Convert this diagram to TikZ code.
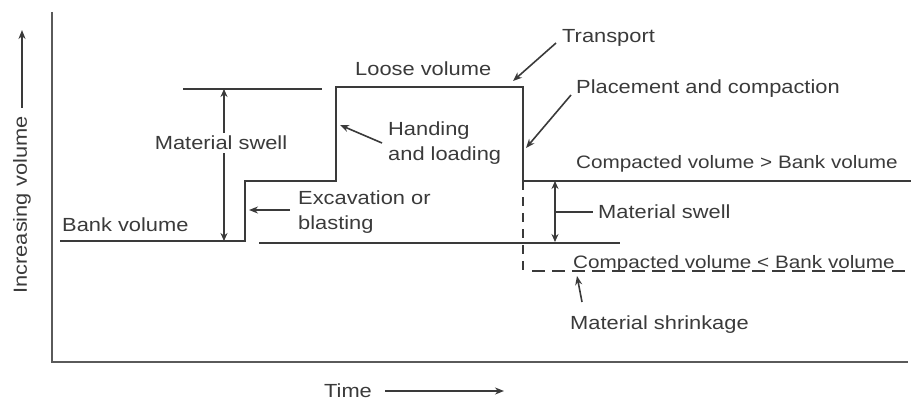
\documentclass[tikz,border=0pt]{standalone}
\usepackage{fontspec}
\setmainfont[FakeStretch=1.15]{Liberation Sans}
\usetikzlibrary{arrows.meta}
\definecolor{ink}{HTML}{3A3A3A}
\definecolor{axisgray}{HTML}{5A5A5A}
\begin{document}
\begin{tikzpicture}[x=1pt,y=-1pt,
  mainline/.style={draw=ink, line width=2.2pt},
  axisline/.style={draw=axisgray, line width=2pt},
  thinline/.style={draw=ink, line width=1.6pt},
  lbl/.style={text=ink, inner sep=0pt, font=\fontsize{19}{25}\selectfont, anchor=west, align=left},
  smalllbl/.style={lbl, font=\fontsize{18}{22}\selectfont},
  tip/.style={-{Stealth[length=9pt,width=7pt]}},
  twotip/.style={{Stealth[length=8pt,width=7pt]}-{Stealth[length=8pt,width=7pt]}},
]
\useasboundingbox (0,0) rectangle (911,404);
% axes
\coordinate (ytop) at (52,12);
\coordinate (origin) at (52,362);
\coordinate (xend) at (908,362);
\draw[axisline] (ytop) -- (origin) -- (xend);
% axis labels
\node[lbl, anchor=center, rotate=90] (ylab) at (22,205) {Increasing volume};
\coordinate (yarrS) at (22,108);
\coordinate (yarrE) at (22,30);
\draw[thinline, tip] (yarrS) -- (yarrE);
\node[lbl, anchor=center] (xlab) at (348,391) {Time};
\coordinate (xarrS) at (385,391);
\coordinate (xarrE) at (504,391);
\draw[thinline, tip] (xarrS) -- (xarrE);
% step curve
\coordinate (s0) at (60,241);
\coordinate (s1) at (245,241);
\coordinate (s2) at (245,181);
\coordinate (s3) at (336,181);
\coordinate (s4) at (336,87);
\coordinate (s5) at (523,87);
\coordinate (s6) at (523,181);
\coordinate (s7) at (911,181);
\draw[mainline] (s0) -- (s1) -- (s2) -- (s3) -- (s4) -- (s5) -- (s6) -- (s7);
% reference lines
\coordinate (topL) at (183,89);
\coordinate (topR) at (322,89);
\draw[mainline] (topL) -- (topR);
\coordinate (bankL) at (259,243);
\coordinate (bankR) at (620,243);
\draw[mainline] (bankL) -- (bankR);
% dashed
\coordinate (dvT) at (523,181);
\coordinate (dvB) at (523,276);
\draw[mainline, dash pattern=on 9pt off 7pt] (dvT) -- (dvB);
\coordinate (dhL) at (532,271);
\coordinate (dhR) at (906,271);
% material swell 1
\coordinate (sw1T) at (224,89);
\coordinate (sw1B) at (224,241);
\draw[thinline, twotip] (sw1T) -- (sw1B);
\node[lbl, anchor=center, fill=white, inner sep=3pt] (swell1) at (221,143) {Material swell};
% material swell 2
\coordinate (sw2T) at (555,181);
\coordinate (sw2B) at (555,242);
\draw[thinline, twotip] (sw2T) -- (sw2B);
\coordinate (sw2M) at (555,212);
\node[lbl] (swell2) at (598,212) {Material swell};
\coordinate (sw2E) at (593,212);
\draw[thinline] (sw2M) -- (sw2E);
% texts
\node[lbl] (bank) at (62,225) {Bank volume};
\node[lbl] (loose) at (355,69) {Loose volume};
\node[lbl] (handling) at (388,143) {Handing\\and loading};
\node[lbl] (excav) at (298,212) {Excavation or\\blasting};
\node[lbl] (transport) at (562,38) {Transport};
\node[lbl] (placement) at (576,89) {Placement and compaction};
\node[smalllbl] (compGT) at (576,164) {Compacted volume > Bank volume};
\node[smalllbl] (compLT) at (573,264) {Compacted volume < Bank volume};
\draw[mainline, dash pattern=on 13pt off 7pt] (dhL) -- (dhR);
\node[lbl] (shrink) at (570,325) {Material shrinkage};
% pointer arrows
\coordinate (hA) at (382,143);
\coordinate (hB) at (340,125);
\draw[thinline, tip] (hA) -- (hB);
\coordinate (eA) at (290,210);
\coordinate (eB) at (249,210);
\draw[thinline, tip] (eA) -- (eB);
\coordinate (tA) at (556,43);
\coordinate (tB) at (513,81);
\draw[thinline, tip] (tA) -- (tB);
\coordinate (pA) at (571,95);
\coordinate (pB) at (526,148);
\draw[thinline, tip] (pA) -- (pB);
\coordinate (mA) at (582,302);
\coordinate (mB) at (577,276);
\draw[thinline, tip] (mA) -- (mB);
\end{tikzpicture}
\end{document}
